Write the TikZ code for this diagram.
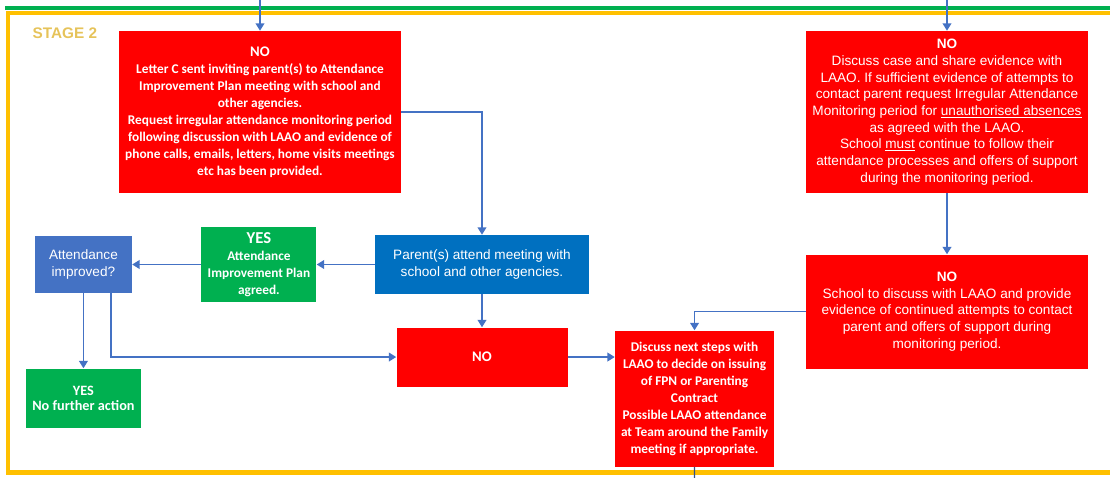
\documentclass[tikz,border=0pt]{standalone}
\usepackage{fontspec}
\setmainfont{Carlito}
\newfontfamily\calibrifont{Carlito}
\newfontfamily\arialfont{Liberation Sans}
\usepackage{tikz}
\usetikzlibrary{positioning,calc,arrows.meta}

\definecolor{flowred}{HTML}{FF0000}
\definecolor{flowgreen}{HTML}{00B050}
\definecolor{flowblue}{HTML}{0070C0}
\definecolor{askblue}{HTML}{4472C4}
\definecolor{linkblue}{HTML}{4472C4}
\definecolor{stagegold}{HTML}{FFC000}
\definecolor{labelgold}{HTML}{E6C35A}

\begin{document}
\begin{tikzpicture}[
  x=0.75pt, y=-0.75pt,
  >={Triangle[length=5.5pt,width=6.5pt]},
  every node/.style={align=center, text=white},
  box/.style={inner sep=0pt},
  calibri/.style={font=\calibrifont\bfseries\fontsize{10}{12.75}\selectfont},
  arial/.style={font=\arialfont\fontsize{10.2}{12.5}\selectfont},
  redbox/.style={box, fill=flowred},
  greenbox/.style={box, fill=flowgreen, calibri},
  bluebox/.style={box, fill=flowblue, arial},
  askbox/.style={box, fill=askblue, arial},
  link/.style={->, draw=linkblue, line width=1.1pt},
  thread/.style={draw=linkblue!70!black, line width=1.1pt},
  stagelabel/.style={text=labelgold, font=\arialfont\bfseries\fontsize{11.5}{13}\selectfont}
]
\useasboundingbox (0,0) rectangle (1110,478);

% stage frame
\draw[flowgreen, line width=3.6pt] (5,8) -- (1110,8);
\draw[stagegold, line width=3.4pt] (1110,13) -- (8,13) -- (8,472.5) -- (1110,472.5);
\node[stagelabel, anchor=west] (stage) at (28,33) {STAGE 2};

\coordinate (entrya) at (260,0);
\coordinate (entryb) at (947,0);
\coordinate (exit) at (694.5,478);

\node[redbox, calibri, minimum width=211.5pt, minimum height=121.5pt] (letterc) at (260,112)
  {{\fontsize{11}{13}\selectfont NO}\\
   Letter C sent inviting parent(s) to Attendance\\
   Improvement Plan meeting with school and\\
   other agencies.\\
   Request irregular attendance monitoring period\\
   following discussion with LAAO and evidence of\\
   phone calls, emails, letters, home visits meetings\\
   etc has been provided.};

\node[redbox, arial, minimum width=211.5pt, minimum height=121.5pt] (sharecase) at (947,112)
  {\textbf{NO}\\
   Discuss case and share evidence with\\
   LAAO. If sufficient evidence of attempts to\\
   contact parent request Irregular Attendance\\
   Monitoring period for \underline{unauthorised absences}\\
   as agreed with the LAAO.\\
   School \underline{must} continue to follow their\\
   attendance processes and offers of support\\
   during the monitoring period.};

\node[redbox, arial, minimum width=211.5pt, minimum height=85.5pt, below=45.75pt of sharecase] (continued)
  {\textbf{NO}\\
   School to discuss with LAAO and provide\\
   evidence of continued attempts to contact\\
   parent and offers of support during\\
   monitoring period.};

\node[bluebox, minimum width=160.5pt, minimum height=44.25pt] (meeting) at (482,264.5)
  {Parent(s) attend meeting with\\school and other agencies.};

\node[greenbox, minimum width=86.25pt, minimum height=56.25pt, left=43.5pt of meeting] (planagreed)
  {{\fontsize{12.5}{13}\selectfont YES}\\Attendance\\Improvement Plan\\agreed.};

\node[askbox, minimum width=72.75pt, minimum height=42.75pt, left=51.75pt of planagreed] (improved)
  {Attendance\\improved?};

\node[greenbox, font=\calibrifont\bfseries\fontsize{10.7}{11.25}\selectfont,
  minimum width=86.25pt, minimum height=44.25pt, below=56.25pt of improved] (noaction)
  {YES\\No further action};

\node[redbox, calibri, font=\calibrifont\bfseries\fontsize{11}{13}\selectfont,
  minimum width=128.25pt, minimum height=44.25pt, below=24.75pt of meeting] (nomid) {NO};

\node[redbox, calibri, minimum width=119.25pt, minimum height=102pt,
  right=35.25pt of nomid.north east, anchor=north west, yshift=-2.25pt] (nextsteps)
  {Discuss next steps with\\
   LAAO to decide on issuing\\
   of FPN or Parenting\\
   Contract\\
   Possible LAAO attendance\\
   at Team around the Family\\
   meeting if appropriate.};

\draw[link] (entrya) -- (letterc);
\draw[link] (entryb) -- (sharecase);
\draw[link] (letterc) -| (meeting);
\draw[link] (meeting) -- (planagreed);
\draw[link] (planagreed) -- (improved);
\draw[link] (improved) -- (noaction);
\draw[link] ([xshift=20.6pt]improved.south) |- (nomid);
\draw[link] (meeting) -- (nomid);
\draw[link] (nomid) -- (nomid -| nextsteps.west);
\draw[link] (sharecase) -- (continued);
\draw[link] (continued) -| (nextsteps);
\draw[thread] (nextsteps) -- (exit);

\end{tikzpicture}
\end{document}
